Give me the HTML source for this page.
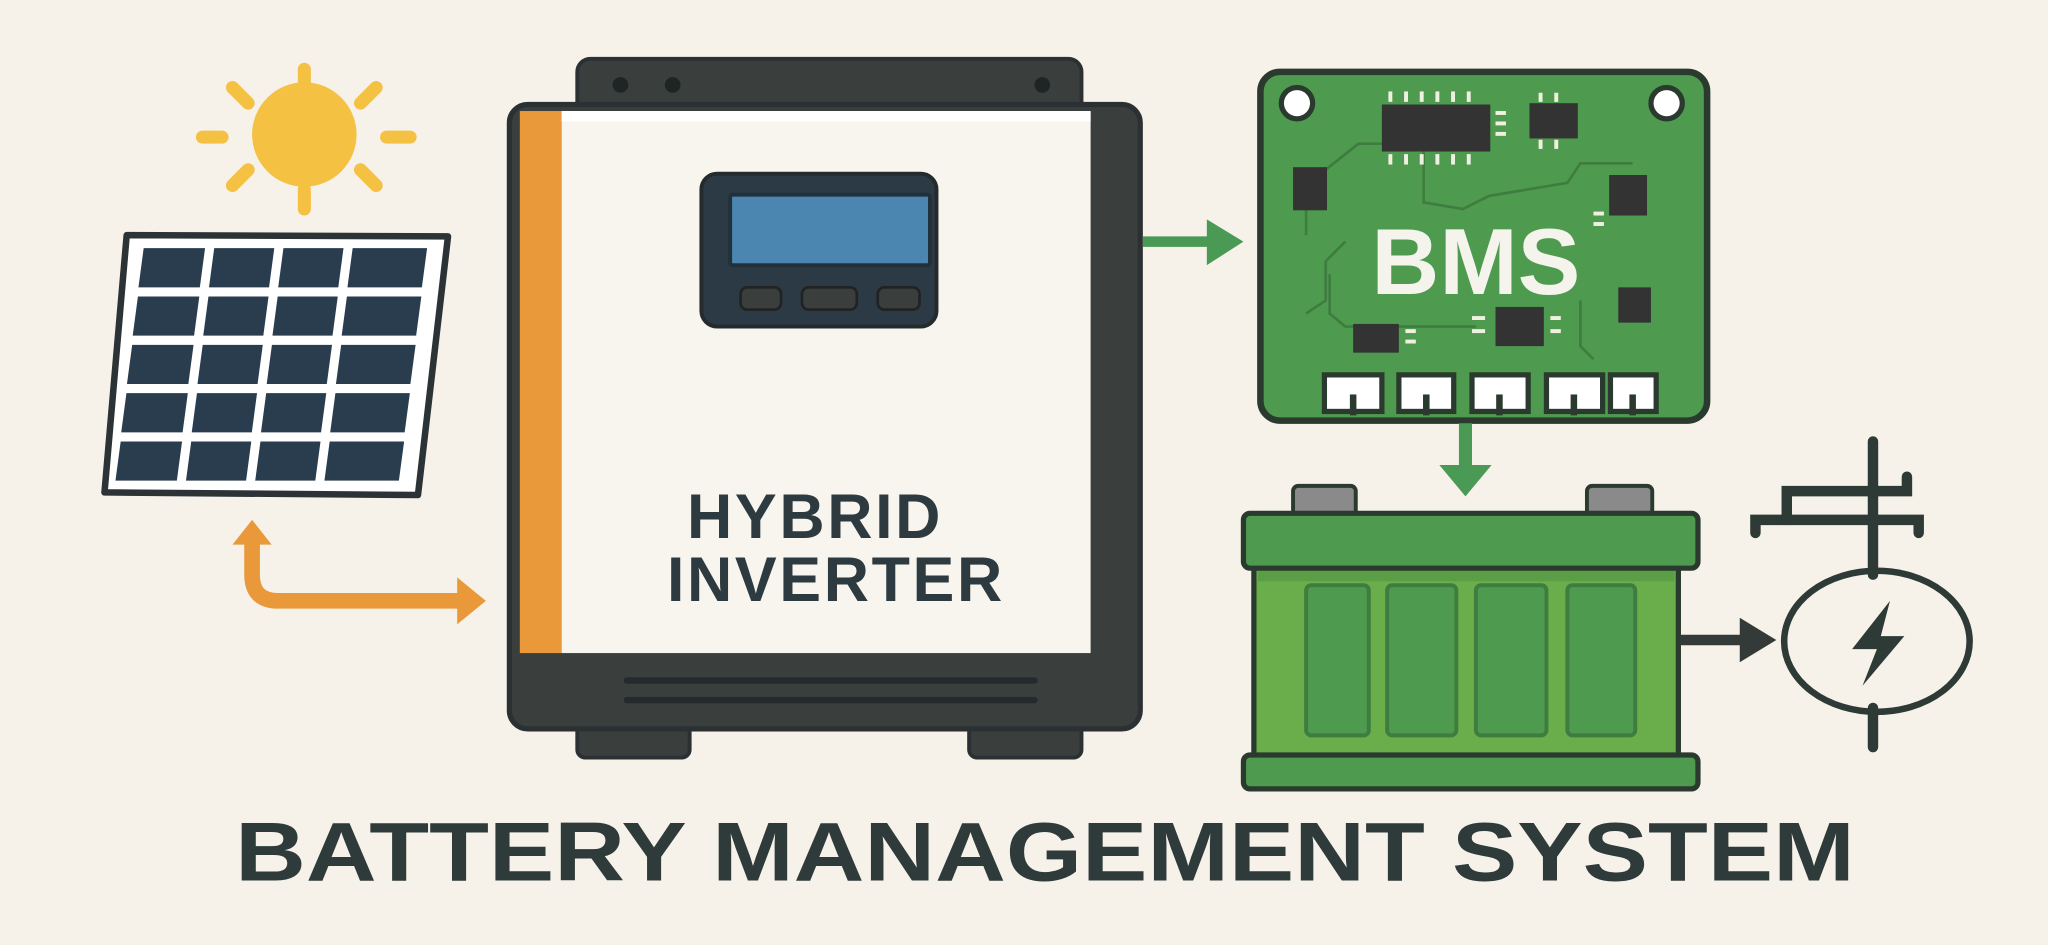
<!DOCTYPE html>
<html><head><meta charset="utf-8"><style>
html,body{margin:0;padding:0;background:#f6f2ea;}
svg{display:block;}
</style></head><body>
<svg width="2048" height="945" viewBox="0 0 1568 723.5" preserveAspectRatio="none" xmlns="http://www.w3.org/2000/svg">
<rect x="0" y="0" width="1568" height="724" fill="#f6f2ea"/>
<g stroke="#f5c142" stroke-width="10" stroke-linecap="round">
<circle cx="233" cy="103" r="40" fill="#f5c142" stroke="none"/>
<line x1="233" y1="53" x2="233" y2="66"/><line x1="233" y1="145" x2="233" y2="160"/>
<line x1="155" y1="105" x2="170" y2="105"/><line x1="296" y1="105" x2="314" y2="105"/>
<line x1="178" y1="67" x2="190" y2="79"/><line x1="288" y1="67" x2="276" y2="79"/>
<line x1="178" y1="142" x2="190" y2="130"/><line x1="288" y1="142" x2="276" y2="130"/>
</g>
<polygon points="97,180 343,181 320,379 80,377" fill="#fff" stroke="#2b3336" stroke-width="5" stroke-linejoin="round"/>
<g fill="#2a3d4f">
<g id="row">
<polygon points="110,190 157,190 153,220 106,220"/><polygon points="164,190 210,190 206,220 160,220"/><polygon points="217,190 263,190 259,220 213,220"/><polygon points="270,190 327,190 323,220 266,220"/>
</g>
<use href="#row" transform="translate(-4.4,37)"/>
<use href="#row" transform="translate(-8.8,74)"/>
<use href="#row" transform="translate(-13.2,111)"/>
<use href="#row" transform="translate(-17.6,148)"/>
</g>
<path d="M193 412 V440 Q193 460 213 460 H352" fill="none" stroke="#e9993a" stroke-width="12"/>
<polygon points="178,417 193,398 208,417" fill="#e9993a"/>
<polygon points="350,442 372,460 350,478" fill="#e9993a"/>
<rect x="442" y="45" width="386" height="55" rx="10" fill="#3a3f3e" stroke="#2b3033" stroke-width="3"/>
<circle cx="475" cy="65" r="6" fill="#1f2425"/><circle cx="515" cy="65" r="6" fill="#1f2425"/><circle cx="798" cy="65" r="6" fill="#1f2425"/>
<rect x="442" y="540" width="86" height="40" rx="6" fill="#3a3f3e" stroke="#2b3033" stroke-width="3"/>
<rect x="742" y="540" width="86" height="40" rx="6" fill="#3a3f3e" stroke="#2b3033" stroke-width="3"/>
<rect x="390" y="80" width="483" height="478" rx="14" fill="#3a3f3e" stroke="#2b3033" stroke-width="4"/>
<rect x="398" y="85" width="32" height="415" fill="#e9993a"/>
<rect x="430" y="85" width="405" height="415" fill="#f8f5ee"/>
<rect x="430" y="85" width="405" height="8" fill="#ffffff"/>
<line x1="480" y1="521" x2="792" y2="521" stroke="#252b2c" stroke-width="5" stroke-linecap="round"/>
<line x1="480" y1="536" x2="792" y2="536" stroke="#252b2c" stroke-width="5" stroke-linecap="round"/>
<rect x="537" y="133" width="180" height="117" rx="12" fill="#2b3a45" stroke="#252b2c" stroke-width="3"/>
<rect x="559" y="149" width="153" height="54" rx="2" fill="#4a86b0" stroke="#22303a" stroke-width="3"/>
<rect x="567" y="220" width="31" height="17" rx="5" fill="#3a3f3e" stroke="#222" stroke-width="2"/>
<rect x="614" y="220" width="42" height="17" rx="5" fill="#3a3f3e" stroke="#222" stroke-width="2"/>
<rect x="672" y="220" width="32" height="17" rx="5" fill="#3a3f3e" stroke="#222" stroke-width="2"/>
<g font-family="Liberation Sans, sans-serif" font-weight="bold" font-size="48" fill="#2d3a3f" text-anchor="middle" letter-spacing="2">
<text x="624" y="412">HYBRID</text><text x="640" y="460">INVERTER</text>
</g>
<line x1="875" y1="185" x2="930" y2="185" stroke="#4a9a55" stroke-width="8"/>
<polygon points="924,168 952,185 924,203" fill="#4a9a55"/>
<rect x="965" y="55" width="342" height="267" rx="15" fill="#4e9a4e" stroke="#2b3a2e" stroke-width="5"/>
<circle cx="993" cy="79" r="12" fill="#fff" stroke="#2b3a2e" stroke-width="4"/>
<circle cx="1276" cy="79" r="12" fill="#fff" stroke="#2b3a2e" stroke-width="4"/>
<g fill="none" stroke="#3e7d3f" stroke-width="2">
<path d="M1000 180 V160 L1015 145 V130 L1040 110 H1060"/>
<path d="M1060 100 L1090 100 V155 L1120 160 L1140 150 L1200 140 L1210 125 H1250"/>
<path d="M1000 240 L1015 230 V200 L1030 185"/>
<path d="M1018 210 V240 L1030 250 H1130"/>
<path d="M1210 230 V265 L1220 275"/>
</g>
<g fill="#333">
<rect x="1058" y="80" width="83" height="36"/>
<rect x="1171" y="79" width="37" height="27"/>
<rect x="990" y="128" width="26" height="33"/>
<rect x="1232" y="134" width="29" height="31"/>
<rect x="1239" y="220" width="25" height="27"/>
<rect x="1145" y="235" width="37" height="30"/>
<rect x="1036" y="248" width="35" height="22"/>
</g>
<g fill="#f0f0e0">
<rect x="1063" y="70" width="3" height="8"/><rect x="1075" y="70" width="3" height="8"/><rect x="1087" y="70" width="3" height="8"/><rect x="1099" y="70" width="3" height="8"/><rect x="1111" y="70" width="3" height="8"/><rect x="1123" y="70" width="3" height="8"/>
<rect x="1063" y="118" width="3" height="8"/><rect x="1075" y="118" width="3" height="8"/><rect x="1087" y="118" width="3" height="8"/><rect x="1099" y="118" width="3" height="8"/><rect x="1111" y="118" width="3" height="8"/><rect x="1123" y="118" width="3" height="8"/>
<rect x="1145" y="85" width="8" height="3"/><rect x="1145" y="93" width="8" height="3"/><rect x="1145" y="101" width="8" height="3"/>
<rect x="1178" y="71" width="3" height="7"/><rect x="1190" y="71" width="3" height="7"/><rect x="1178" y="107" width="3" height="7"/><rect x="1190" y="107" width="3" height="7"/>
<rect x="1220" y="162" width="8" height="3"/><rect x="1220" y="170" width="8" height="3"/>
<rect x="1127" y="242" width="10" height="3"/><rect x="1127" y="252" width="10" height="3"/><rect x="1187" y="242" width="8" height="3"/><rect x="1187" y="252" width="8" height="3"/>
<rect x="1076" y="252" width="8" height="3"/><rect x="1076" y="260" width="8" height="3"/>
</g>
<text x="1130" y="225" font-family="Liberation Sans, sans-serif" font-weight="bold" font-size="72" fill="#f4f4ec" text-anchor="middle">BMS</text>
<g fill="#fff" stroke="#2b3a2e" stroke-width="4">
<rect x="1014" y="287" width="44" height="28"/><rect x="1071" y="287" width="42" height="28"/><rect x="1127" y="287" width="43" height="28"/><rect x="1184" y="287" width="43" height="28"/><rect x="1233" y="287" width="35" height="28"/>
</g>
<g stroke="#2b3a2e" stroke-width="5">
<line x1="1036" y1="302" x2="1036" y2="318"/><line x1="1092" y1="302" x2="1092" y2="318"/><line x1="1148" y1="302" x2="1148" y2="318"/><line x1="1205" y1="302" x2="1205" y2="318"/><line x1="1250" y1="302" x2="1250" y2="318"/>
</g>
<line x1="1122" y1="324" x2="1122" y2="362" stroke="#4a9a55" stroke-width="10"/>
<polygon points="1102,356 1122,380 1142,356" fill="#4a9a55"/>
<rect x="990" y="372" width="48" height="26" rx="4" fill="#8a8a8a" stroke="#2b3a2e" stroke-width="3"/>
<rect x="1215" y="372" width="50" height="26" rx="4" fill="#8a8a8a" stroke="#2b3a2e" stroke-width="3"/>
<rect x="960" y="430" width="325" height="152" fill="#6aad4b" stroke="#2b3a2e" stroke-width="4"/>
<rect x="963" y="435" width="319" height="10" fill="#5a9e45"/>
<rect x="952" y="393" width="348" height="42" rx="5" fill="#4e9a4e" stroke="#2b3a2e" stroke-width="4"/>
<rect x="952" y="578" width="348" height="26" rx="5" fill="#4e9a4e" stroke="#2b3a2e" stroke-width="4"/>
<g fill="#4e9a4e" stroke="#3e7d3f" stroke-width="3">
<rect x="1000" y="448" width="48" height="115" rx="4"/><rect x="1062" y="448" width="53" height="115" rx="4"/><rect x="1130" y="448" width="54" height="115" rx="4"/><rect x="1200" y="448" width="52" height="115" rx="4"/>
</g>
<line x1="1287" y1="490" x2="1340" y2="490" stroke="#333a38" stroke-width="8"/>
<polygon points="1332,473 1360,490 1332,507" fill="#333a38"/>
<g stroke="#2d3a36" stroke-width="8" fill="none" stroke-linecap="round">
<line x1="1434" y1="338" x2="1434" y2="440"/>
<line x1="1434" y1="542" x2="1434" y2="572"/>
<path d="M1344 408 V398 H1469 V408"/>
<path d="M1368 398 V376 H1460 V365"/>
<ellipse cx="1437" cy="491" rx="71" ry="54" stroke-width="5"/>
</g>
<polygon points="1447,460 1418,497 1437,497 1426,525 1458,487 1440,487" fill="#2d3a36"/>
<text x="180" y="674" textLength="1240" lengthAdjust="spacingAndGlyphs" font-family="Liberation Sans, sans-serif" font-weight="bold" font-size="64" fill="#2e3b3a">BATTERY MANAGEMENT SYSTEM</text>
</svg>
</body></html>
